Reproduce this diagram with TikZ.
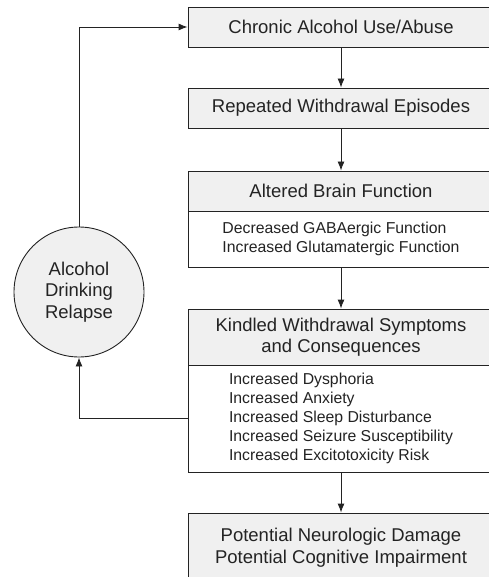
\documentclass[tikz,border=0pt]{standalone}
\usepackage{fontspec}
\setmainfont{Liberation Sans}
\usetikzlibrary{arrows.meta}
\definecolor{boxgray}{RGB}{240,240,240}
\definecolor{inkgray}{RGB}{35,35,35}
\begin{document}
\begin{tikzpicture}[x=1pt,y=-1pt]
    \tikzset{every node/.append style={inner sep=0pt, text=inkgray},
      headbox/.style={draw=inkgray, fill=boxgray, line width=0.9pt, minimum width=306pt, align=center, font=\fontsize{18.5}{21.5}\selectfont},
      bodybox/.style={draw=inkgray, fill=white, line width=0.9pt, minimum width=306pt, align=left, font=\fontsize{15.8}{18.8}\selectfont},
      arr/.style={draw=inkgray, line width=0.9pt, -{Latex[length=9pt,width=7pt]}}}
    \useasboundingbox (0,0) rectangle (488,577);
    \node [headbox, minimum height=40pt] (chronic) at (341,27) {Chronic Alcohol Use/Abuse};
    \node [headbox, minimum height=40pt] (repeated) at (341,108) {Repeated Withdrawal Episodes};
    \node [headbox, minimum height=40pt] (altered) at (341,191) {Altered Brain Function};
    \node [bodybox, minimum height=56pt] (alteredbody) at (341,239) {Decreased GABAergic Function\\Increased Glutamatergic Function};
    \node [headbox, minimum height=56pt] (kindled) at (341,337) {Kindled Withdrawal Symptoms\\and Consequences};
    \node [bodybox, minimum height=107pt] (kindledbody) at (341,418.5) {Increased Dysphoria\\Increased Anxiety\\Increased Sleep Disturbance\\Increased Seizure Susceptibility\\Increased Excitotoxicity Risk};
    \node [headbox, minimum height=69pt] (damage) at (341,547.5) {Potential Neurologic Damage\\Potential Cognitive Impairment};
    \node [circle, draw=inkgray, fill=boxgray, line width=0.9pt, minimum size=130pt, align=center, font=\fontsize{18.5}{21.5}\selectfont] (relapse) at (79,292) {Alcohol\\Drinking\\Relapse};
    \draw [arr] (chronic.south) -- (repeated.north);
    \draw [arr] (repeated.south) -- (altered.north);
    \draw [arr] (alteredbody.south) -- (kindled.north);
    \draw [arr] (kindledbody.south) -- (damage.north);
    \draw [arr] (kindledbody.west) -| (relapse.south);
    \draw [arr] (relapse.north) |- (chronic.west);
\end{tikzpicture}
\end{document}
